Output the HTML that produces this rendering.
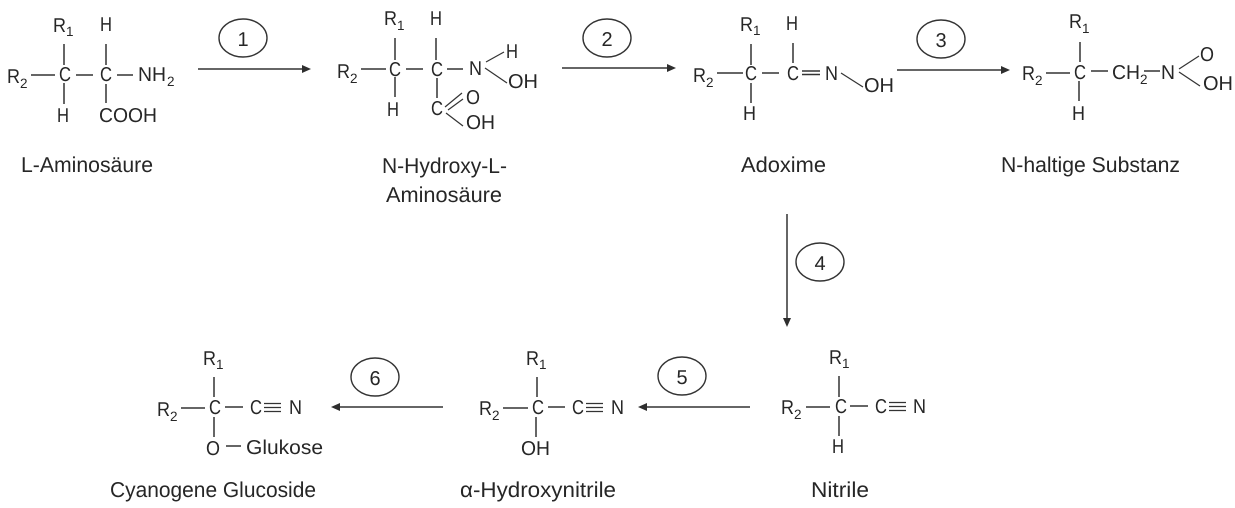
<!DOCTYPE html>
<html lang="de">
<head>
<meta charset="utf-8">
<style>
html,body{margin:0;padding:0;background:#fff;width:1235px;height:508px;overflow:hidden}
svg{display:block}
text{font-family:"Liberation Sans",sans-serif;font-size:20px;fill:#262626;text-rendering:geometricPrecision}
.s{font-size:13.5px}
.l{font-size:21.5px}
.n{font-size:20px;text-anchor:middle}
line{stroke:#333;stroke-width:1.5}
.t{stroke-width:1.2}
ellipse{fill:none;stroke:#333;stroke-width:1.4}
path{fill:#2e2e2e;stroke:none}
</style>
</head>
<body>
<svg width="1235" height="508" viewBox="0 0 1235 508" xmlns="http://www.w3.org/2000/svg">

<!-- Structure 1 -->
<text x="7" y="83" textLength="13" lengthAdjust="spacingAndGlyphs">R</text><text x="20" y="88" class="s">2</text>
<text x="53" y="32" textLength="13" lengthAdjust="spacingAndGlyphs">R</text><text x="66" y="36" class="s">1</text>
<text x="100" y="31" textLength="12" lengthAdjust="spacingAndGlyphs">H</text>
<text x="59" y="81" textLength="12" lengthAdjust="spacingAndGlyphs">C</text>
<text x="100" y="81" textLength="12" lengthAdjust="spacingAndGlyphs">C</text>
<text x="138" y="81" textLength="28" lengthAdjust="spacingAndGlyphs">NH</text><text x="167" y="86" class="s">2</text>
<text x="57" y="122" textLength="12" lengthAdjust="spacingAndGlyphs">H</text>
<text x="99" y="122" textLength="58" lengthAdjust="spacingAndGlyphs">COOH</text>
<line x1="31" y1="75" x2="55" y2="75"/><line x1="76" y1="75" x2="93" y2="75"/><line x1="117" y1="75" x2="133" y2="75"/>
<line x1="64" y1="44" x2="64" y2="65"/><line x1="64" y1="83" x2="64" y2="104"/>
<line x1="106" y1="44" x2="106" y2="65"/><line x1="106" y1="84" x2="106" y2="103"/>
<text x="21" y="172" class="l" textLength="132" lengthAdjust="spacingAndGlyphs">L-Aminosäure</text>

<!-- Arrow 1 -->
<line x1="198" y1="69" x2="304" y2="69"/><path d="M311 69l-9-4v8z"/>
<ellipse cx="243" cy="38" rx="24" ry="19"/><text x="243" y="46" class="n">1</text>

<!-- Structure 2 -->
<text x="337" y="78" textLength="13" lengthAdjust="spacingAndGlyphs">R</text><text x="350" y="83" class="s">2</text>
<text x="384" y="25" textLength="13" lengthAdjust="spacingAndGlyphs">R</text><text x="397" y="30" class="s">1</text>
<text x="430" y="25" textLength="12" lengthAdjust="spacingAndGlyphs">H</text>
<text x="389" y="76" textLength="12" lengthAdjust="spacingAndGlyphs">C</text>
<text x="431" y="76" textLength="12" lengthAdjust="spacingAndGlyphs">C</text>
<text x="469" y="75" textLength="13" lengthAdjust="spacingAndGlyphs">N</text>
<text x="506" y="58" textLength="12" lengthAdjust="spacingAndGlyphs">H</text>
<text x="508" y="88" textLength="30" lengthAdjust="spacingAndGlyphs">OH</text>
<text x="387" y="116" textLength="12" lengthAdjust="spacingAndGlyphs">H</text>
<text x="431" y="115" textLength="12" lengthAdjust="spacingAndGlyphs">C</text>
<text x="466" y="104" textLength="14" lengthAdjust="spacingAndGlyphs">O</text>
<text x="466" y="129" textLength="29" lengthAdjust="spacingAndGlyphs">OH</text>
<line x1="361" y1="69" x2="386" y2="69"/><line x1="406" y1="69" x2="423" y2="69"/><line x1="447" y1="69" x2="463" y2="69"/>
<line x1="395" y1="38" x2="395" y2="60"/><line x1="395" y1="77" x2="395" y2="97"/>
<line x1="436" y1="38" x2="436" y2="60"/><line x1="437" y1="78" x2="437" y2="98"/>
<line class="t" x1="486" y1="62" x2="504" y2="52"/><line class="t" x1="485" y1="68" x2="507" y2="83"/>
<line class="t" x1="445" y1="107" x2="462" y2="93"/><line class="t" x1="448" y1="110" x2="463" y2="99"/>
<line class="t" x1="446" y1="113" x2="463" y2="126"/>
<text x="382" y="173" class="l" textLength="125" lengthAdjust="spacingAndGlyphs">N-Hydroxy-L-</text>
<text x="386" y="202" class="l" textLength="116" lengthAdjust="spacingAndGlyphs">Aminosäure</text>

<!-- Arrow 2 -->
<line x1="562" y1="68" x2="669" y2="68"/><path d="M676 68l-9-4v8z"/>
<ellipse cx="607" cy="38" rx="24" ry="19"/><text x="607" y="46" class="n">2</text>

<!-- Structure 3 -->
<text x="693" y="82" textLength="13" lengthAdjust="spacingAndGlyphs">R</text><text x="706" y="87" class="s">2</text>
<text x="740" y="31" textLength="13" lengthAdjust="spacingAndGlyphs">R</text><text x="753" y="35" class="s">1</text>
<text x="786" y="30" textLength="12" lengthAdjust="spacingAndGlyphs">H</text>
<text x="745" y="80" textLength="12" lengthAdjust="spacingAndGlyphs">C</text>
<text x="787" y="80" textLength="12" lengthAdjust="spacingAndGlyphs">C</text>
<text x="825" y="80" textLength="13" lengthAdjust="spacingAndGlyphs">N</text>
<text x="864" y="92" textLength="30" lengthAdjust="spacingAndGlyphs">OH</text>
<text x="743" y="120" textLength="13" lengthAdjust="spacingAndGlyphs">H</text>
<line x1="717" y1="73" x2="743" y2="73"/><line x1="762" y1="73" x2="779" y2="73"/>
<line x1="751" y1="44" x2="751" y2="65"/><line x1="751" y1="83" x2="751" y2="103"/>
<line x1="793" y1="43" x2="793" y2="63"/>
<line x1="802" y1="71" x2="820" y2="71"/><line x1="802" y1="74.5" x2="820" y2="74.5"/>
<line class="t" x1="841" y1="73" x2="863" y2="87"/>
<text x="741" y="172" class="l" textLength="85" lengthAdjust="spacingAndGlyphs">Adoxime</text>

<!-- Arrow 3 -->
<line x1="897" y1="70" x2="1003" y2="70"/><path d="M1010 70l-9-4v8z"/>
<ellipse cx="941" cy="39" rx="24" ry="19"/><text x="941" y="47" class="n">3</text>

<!-- Structure 4 -->
<text x="1022" y="80" textLength="13" lengthAdjust="spacingAndGlyphs">R</text><text x="1035" y="85" class="s">2</text>
<text x="1069" y="28" textLength="13" lengthAdjust="spacingAndGlyphs">R</text><text x="1082" y="33" class="s">1</text>
<text x="1072" y="120" textLength="13" lengthAdjust="spacingAndGlyphs">H</text>
<text x="1074" y="79" textLength="12" lengthAdjust="spacingAndGlyphs">C</text>
<text x="1112" y="79" textLength="28" lengthAdjust="spacingAndGlyphs">CH</text><text x="1140" y="84" class="s">2</text>
<text x="1161" y="79" textLength="14" lengthAdjust="spacingAndGlyphs">N</text>
<text x="1200" y="61" textLength="14" lengthAdjust="spacingAndGlyphs">O</text>
<text x="1203" y="90" textLength="30" lengthAdjust="spacingAndGlyphs">OH</text>
<line x1="1046" y1="73" x2="1070" y2="73"/><line x1="1091" y1="71" x2="1108" y2="71"/><line x1="1144" y1="71" x2="1160" y2="71"/>
<line x1="1080" y1="42" x2="1080" y2="62"/><line x1="1079" y1="81" x2="1079" y2="101"/>
<line class="t" x1="1179" y1="69" x2="1199" y2="56"/><line class="t" x1="1179" y1="72" x2="1200" y2="86"/>
<text x="1001" y="172" class="l" textLength="179" lengthAdjust="spacingAndGlyphs">N-haltige Substanz</text>

<!-- Arrow 4 -->
<line x1="787" y1="214" x2="787" y2="320"/><path d="M787 327l-4-9h8z"/>
<ellipse cx="820" cy="262" rx="24" ry="19"/><text x="820" y="270" class="n">4</text>

<!-- Nitrile -->
<text x="781" y="414" textLength="13" lengthAdjust="spacingAndGlyphs">R</text><text x="794" y="419" class="s">2</text>
<text x="829" y="364" textLength="13" lengthAdjust="spacingAndGlyphs">R</text><text x="842" y="368" class="s">1</text>
<text x="835" y="413" textLength="12" lengthAdjust="spacingAndGlyphs">C</text>
<text x="875" y="413" textLength="12" lengthAdjust="spacingAndGlyphs">C</text>
<text x="913" y="413" textLength="13" lengthAdjust="spacingAndGlyphs">N</text>
<text x="832" y="453" textLength="12" lengthAdjust="spacingAndGlyphs">H</text>
<line x1="806" y1="407" x2="830" y2="407"/><line x1="850" y1="406" x2="868" y2="406"/>
<line x1="839" y1="376" x2="839" y2="397"/><line x1="839" y1="416" x2="839" y2="436"/>
<line class="t" x1="889" y1="402.5" x2="906" y2="402.5"/><line class="t" x1="889" y1="406.5" x2="906" y2="406.5"/><line class="t" x1="889" y1="410.5" x2="906" y2="410.5"/>
<text x="811" y="497" class="l" textLength="58" lengthAdjust="spacingAndGlyphs">Nitrile</text>

<!-- Arrow 5 -->
<line x1="750" y1="407" x2="645" y2="407"/><path d="M638 407l9-4v8z"/>
<ellipse cx="682" cy="376" rx="24" ry="19"/><text x="682" y="384" class="n">5</text>

<!-- alpha-Hydroxynitrile -->
<text x="479" y="415" textLength="13" lengthAdjust="spacingAndGlyphs">R</text><text x="492" y="420" class="s">2</text>
<text x="526" y="365" textLength="13" lengthAdjust="spacingAndGlyphs">R</text><text x="539" y="369" class="s">1</text>
<text x="532" y="414" textLength="12" lengthAdjust="spacingAndGlyphs">C</text>
<text x="572" y="414" textLength="12" lengthAdjust="spacingAndGlyphs">C</text>
<text x="611" y="414" textLength="13" lengthAdjust="spacingAndGlyphs">N</text>
<text x="521" y="455" textLength="29" lengthAdjust="spacingAndGlyphs">OH</text>
<line x1="503" y1="408" x2="528" y2="408"/><line x1="548" y1="407" x2="565" y2="407"/>
<line x1="537" y1="377" x2="537" y2="397"/><line x1="536" y1="417" x2="536" y2="437"/>
<line class="t" x1="586" y1="403.5" x2="603" y2="403.5"/><line class="t" x1="586" y1="407.5" x2="603" y2="407.5"/><line class="t" x1="586" y1="411.5" x2="603" y2="411.5"/>
<text x="460" y="497" class="l" textLength="156" lengthAdjust="spacingAndGlyphs">α-Hydroxynitrile</text>

<!-- Arrow 6 -->
<line x1="443" y1="407" x2="338" y2="407"/><path d="M331 407l9-4v8z"/>
<ellipse cx="375" cy="377" rx="24" ry="19"/><text x="375" y="385" class="n">6</text>

<!-- Cyanogene Glucoside -->
<text x="157" y="416" textLength="13" lengthAdjust="spacingAndGlyphs">R</text><text x="170" y="421" class="s">2</text>
<text x="203" y="365" textLength="13" lengthAdjust="spacingAndGlyphs">R</text><text x="216" y="369" class="s">1</text>
<text x="209" y="414" textLength="12" lengthAdjust="spacingAndGlyphs">C</text>
<text x="250" y="414" textLength="12" lengthAdjust="spacingAndGlyphs">C</text>
<text x="289" y="414" textLength="13" lengthAdjust="spacingAndGlyphs">N</text>
<text x="206" y="455" textLength="14" lengthAdjust="spacingAndGlyphs">O</text>
<text x="246" y="454" textLength="77" lengthAdjust="spacingAndGlyphs">Glukose</text>
<line x1="181" y1="408" x2="205" y2="408"/><line x1="225" y1="407" x2="243" y2="407"/>
<line x1="214" y1="377" x2="214" y2="397"/><line x1="214" y1="417" x2="214" y2="437"/>
<line x1="226" y1="446" x2="241" y2="446"/>
<line class="t" x1="264" y1="403.5" x2="281" y2="403.5"/><line class="t" x1="264" y1="407.5" x2="281" y2="407.5"/><line class="t" x1="264" y1="411.5" x2="281" y2="411.5"/>
<text x="110" y="497" class="l" textLength="206" lengthAdjust="spacingAndGlyphs">Cyanogene Glucoside</text>
</svg>
</body>
</html>
